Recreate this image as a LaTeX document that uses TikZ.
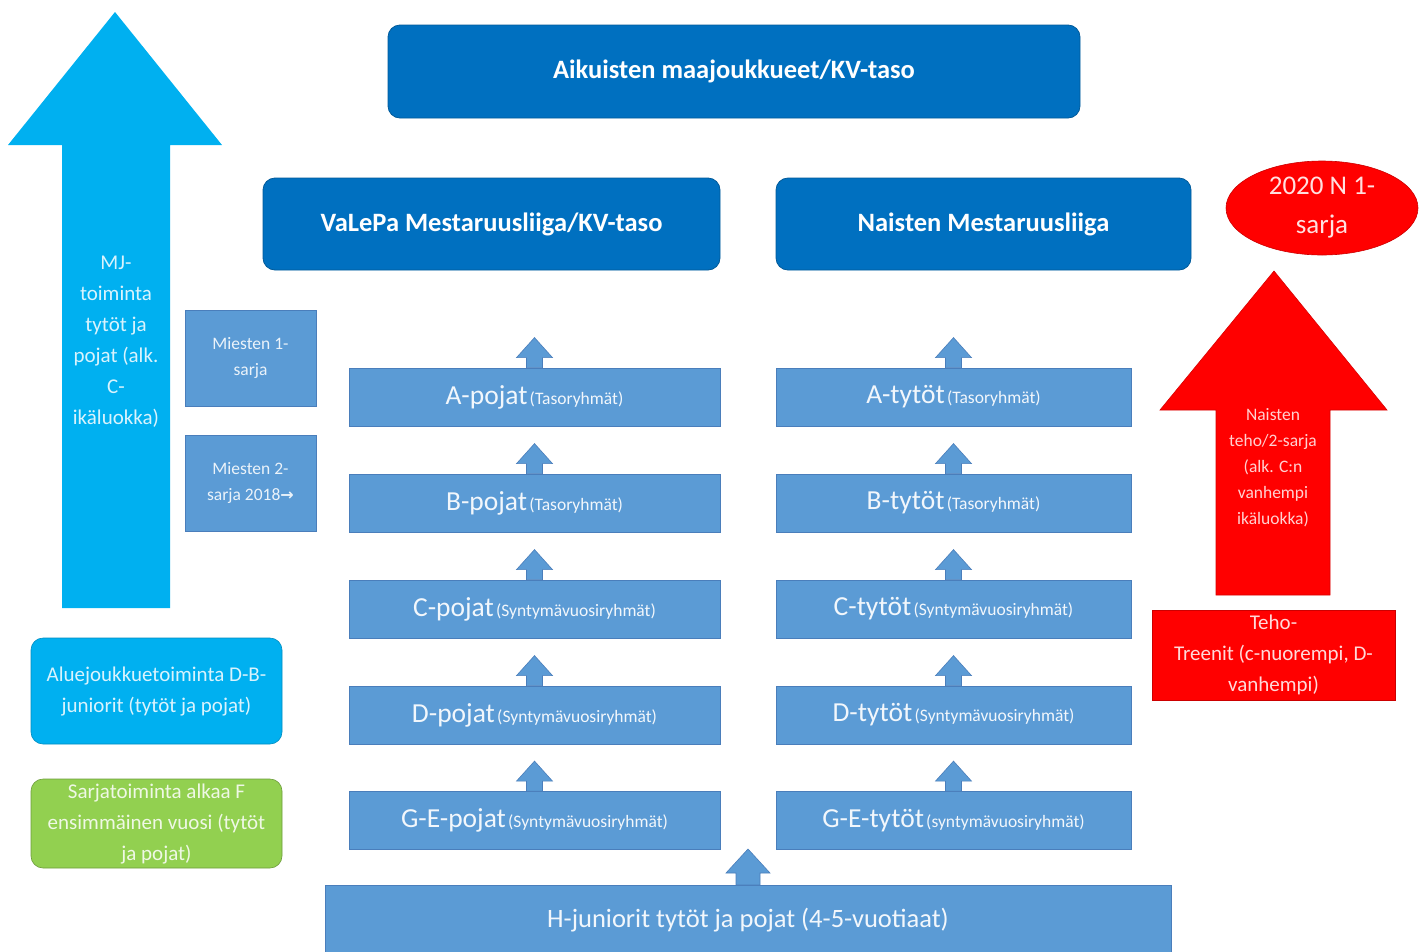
\documentclass[tikz,border=0pt]{standalone}
\usepackage{fontspec}
\setmainfont{Carlito}
\usetikzlibrary{shapes.geometric,calc}
\definecolor{dblue}{HTML}{0070C0}
\definecolor{mblue}{HTML}{5B9BD5}
\definecolor{mbord}{HTML}{4A7EBB}
\definecolor{cyanb}{HTML}{00B0F0}
\definecolor{greenb}{HTML}{92D050}
\definecolor{redb}{HTML}{FF0000}
\newcommand\fs[2]{\fontsize{#1}{#2}\selectfont}
\newcommand\collab[2]{{\fs{27.5}{30}#1} {\fs{17.5}{18}(#2)}}
\newcommand\smallarr[1]{%
  \fill[mblue,draw=mbord,line width=0.6pt] ($(#1.north)+(-8,0)$) -- ++(0,-10) -- ++(-10,0) -- ++(18,-20) -- ++(18,20) -- ++(-10,0) -- ++(0,10) -- cycle;}
\begin{document}
\begin{tikzpicture}[x=1pt,y=-1pt,
  topbox/.style={draw=dblue!80!black,line width=0.8pt,fill=dblue,rounded corners=12pt,text=white,font=\bfseries\fs{26.5}{30}},
  colbox/.style={draw=mbord,line width=0.8pt,fill=mblue,text=white!92!mblue,minimum width=371pt,minimum height=58pt,inner sep=0pt},
  colboxr/.style={colbox,minimum width=355pt},
  sidebox/.style={draw=mbord,line width=0.8pt,fill=mblue,text=white!88!mblue,minimum width=131pt,minimum height=96pt,align=center,font=\fs{17.5}{26},inner sep=0pt},
  softbox/.style={rounded corners=12pt,minimum width=251pt,align=center,font=\fs{21}{31},inner sep=0pt},
]
\useasboundingbox (0,0) rectangle (1427,951);
\fill[white] (0,0) rectangle (1427,951);

% big cyan arrow
\fill[cyanb] (62,608) -- (62,145) -- (8,145) -- (115,12) -- (222,145) -- (170,145) -- (170,608) -- cycle;
\node[align=center,text=white!85!cyanb,font=\fs{21}{31},inner sep=0pt] (mj) at (116,342) {MJ-\\toiminta\\tytöt ja\\pojat (alk.\\C-\\ikäluokka)};

% top boxes
\node[topbox,minimum width=692pt,minimum height=93pt] (aik) at (734,71.5) {Aikuisten maajoukkueet/KV-taso};
\node[topbox,minimum width=457pt,minimum height=92pt] (valepa) at (491.5,224) {VaLePa Mestaruusliiga/KV-taso};
\node[topbox,minimum width=415pt,minimum height=92pt] (naiset) at (983.5,224) {Naisten Mestaruusliiga};

% red ellipse
\node[ellipse,fill=redb,draw=redb!80!black,line width=0.6pt,minimum width=192pt,minimum height=94pt,inner sep=0pt,align=center,text=white!88!redb,font=\fs{27}{39}] (n1) at (1322,208) {2020 N 1-\\sarja};

% red arrow
\fill[redb,draw=redb!85!black,line width=0.6pt] (1216,595) -- (1216,410) -- (1160,410) -- (1274,271) -- (1387,410) -- (1330,410) -- (1330,595) -- cycle;
\node[align=center,text=white!82!redb,font=\fs{17.5}{26},inner sep=0pt] (teho2) at (1273,468) {Naisten\\teho/2-sarja\\(alk. C:n\\vanhempi\\ikäluokka)};

% Teho box
\node[fill=redb,draw=redb!80!black,line width=0.6pt,minimum width=243pt,minimum height=90pt,align=center,inner sep=0pt,text=white!85!redb,font=\fs{21}{31}] (teho) at (1273.5,655) {Teho-\\Treenit (c-nuorempi, D-\\vanhempi)};

% Miesten boxes
\node[sidebox] (m1) at (250.5,358) {Miesten 1-\\sarja};
\node[sidebox] (m2) at (250.5,483) {Miesten 2-\\sarja 2018{\fontspec{DejaVu Sans}\bfseries\fs{16}{26}→}};

% left column
\node[colbox] (ap) at (534.5,397) {\collab{A-pojat}{Tasoryhmät}};
\node[colbox] (bp) at (534.5,503) {\collab{B-pojat}{Tasoryhmät}};
\node[colbox] (cp) at (534.5,609) {\collab{C-pojat}{Syntymävuosiryhmät}};
\node[colbox] (dp) at (534.5,715) {\collab{D-pojat}{Syntymävuosiryhmät}};
\node[colbox] (gp) at (534.5,820.5) {\collab{G-E-pojat}{Syntymävuosiryhmät}};

% right column
\node[colboxr] (at) at (953.5,397) {\collab{A-tytöt}{Tasoryhmät}};
\node[colboxr] (bt) at (953.5,503) {\collab{B-tytöt}{Tasoryhmät}};
\node[colboxr] (ct) at (953.5,609) {\collab{C-tytöt}{Syntymävuosiryhmät}};
\node[colboxr] (dt) at (953.5,715) {\collab{D-tytöt}{Syntymävuosiryhmät}};
\node[colboxr] (gt) at (953.5,820.5) {\collab{G-E-tytöt}{syntymävuosiryhmät}};

\foreach \n in {ap,bp,cp,dp,gp,at,bt,ct,dt,gt} {\smallarr{\n}}

% H box and arrow
\node[draw=mbord,line width=0.8pt,fill=mblue,text=white!92!mblue,minimum width=846pt,minimum height=70pt,inner sep=0pt,font=\fs{26.5}{30}] (h) at (748,920) {H-juniorit tytöt ja pojat (4-5-vuotiaat)};
\fill[mblue,draw=mbord,line width=0.6pt] (736,885) -- (736,873) -- (726,873) -- (748,849) -- (770,873) -- (760,873) -- (760,885) -- cycle;

% left bottom boxes
\node[softbox,fill=cyanb,draw=cyanb!80!black,line width=0.6pt,minimum height=106pt,text=white!85!cyanb] (alue) at (156.5,691) {Aluejoukkuetoiminta D-B-\\juniorit (tytöt ja pojat)};
\node[softbox,fill=greenb,draw=greenb!75!black,line width=0.6pt,minimum height=89pt,text=white!85!greenb] (sarja) at (156.5,823.5) {Sarjatoiminta alkaa F\\ensimmäinen vuosi (tytöt\\ja pojat)};
\end{tikzpicture}
\end{document}
